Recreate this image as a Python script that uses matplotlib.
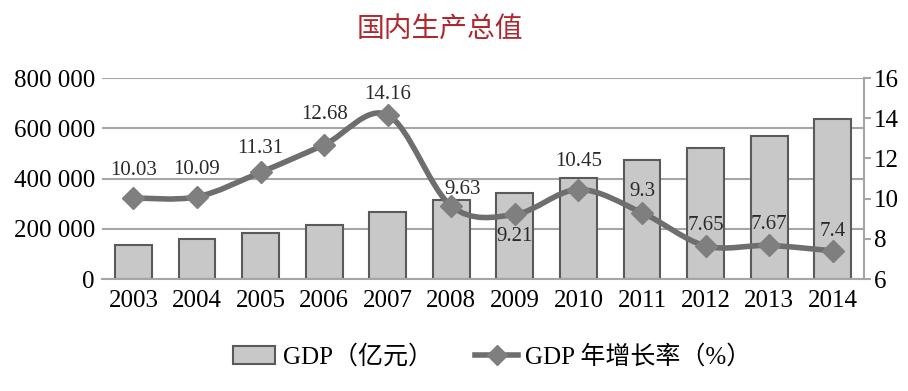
import matplotlib.pyplot as plt
from matplotlib.path import Path
from matplotlib.patches import PathPatch
from matplotlib.lines import Line2D
from matplotlib.patches import Patch
from matplotlib.ticker import FuncFormatter

# 国内生产总值 柱状图 + 增长率折线
years = ['2003', '2004', '2005', '2006', '2007', '2008', '2009', '2010',
         '2011', '2012', '2013', '2014']
gdp = [135823, 159878, 184937, 216314, 265810, 314045, 340903, 401513,
       473104, 519470, 568845, 636463]
rate = [10.03, 10.09, 11.31, 12.68, 14.16, 9.63, 9.21, 10.45, 9.3, 7.65, 7.67, 7.4]
rate_labels = ['10.03', '10.09', '11.31', '12.68', '14.16', '9.63', '9.21',
               '10.45', '9.3', '7.65', '7.67', '7.4']
# 标签偏移 (points)
label_offsets = [(0, 20), (0, 20), (0, 17), (0, 22), (0, 15), (8, 12), (0, -16),
                 (0, 20), (0, 15), (0, 15), (0, 15), (0, 14)]

plt.rcParams['font.family'] = ['Liberation Serif', 'Noto Sans CJK SC']

fig = plt.figure(figsize=(9.08, 3.91), dpi=100)
ax = fig.add_axes([0.112, 0.2864, 0.84, 0.5141])
ax2 = ax.twinx()

x = list(range(len(years)))
ax.bar(x, gdp, width=0.58, color='#c8c8c8', edgecolor='#5a5a5a', linewidth=1.5, zorder=2)
ax.set_xlim(-0.5, len(years) - 0.5)
ax.set_ylim(0, 800000)
ax.set_yticks([0, 200000, 400000, 600000, 800000])
ax.yaxis.set_major_formatter(FuncFormatter(lambda v, p: '{:,}'.format(int(v)).replace(',', ' ')))
ax.set_xticks(x)
ax.set_xticklabels(years)
ax.grid(axis='y', color='#a6a6a6', linewidth=1.5, zorder=0)
ax.set_axisbelow(True)
ax.tick_params(axis='y', length=0, labelsize=18, pad=5)
ax.tick_params(axis='x', length=0, labelsize=18, pad=8)
for s in ['left', 'top', 'right']:
    ax.spines[s].set_visible(False)
ax.spines['bottom'].set_color('#a6a6a6')
ax.spines['bottom'].set_linewidth(1.5)

ax2.set_ylim(6, 16)
ax2.set_yticks([6, 8, 10, 12, 14, 16])
ax2.tick_params(axis='y', length=5, width=1.5, color='#a6a6a6', labelsize=18, pad=2)
for s in ['left', 'top', 'bottom']:
    ax2.spines[s].set_visible(False)
ax2.spines['right'].set_color('#a6a6a6')
ax2.spines['right'].set_linewidth(1.5)

# 平滑曲线 (Bezier)
pts = list(zip(x, rate))
verts = [pts[0]]
codes = [Path.MOVETO]
n = len(pts)
for i in range(n - 1):
    p0 = pts[i - 1] if i > 0 else pts[i]
    p1 = pts[i]
    p2 = pts[i + 1]
    p3 = pts[i + 2] if i + 2 < n else pts[i + 1]
    c1 = (p1[0] + (p2[0] - p0[0]) / 6, p1[1] + (p2[1] - p0[1]) / 6)
    c2 = (p2[0] - (p3[0] - p1[0]) / 6, p2[1] - (p3[1] - p1[1]) / 6)
    verts += [c1, c2, p2]
    codes += [Path.CURVE4, Path.CURVE4, Path.CURVE4]
curve = PathPatch(Path(verts, codes), facecolor='none', edgecolor='#6e6e6e',
                  linewidth=4, zorder=3, capstyle='round')
ax2.add_patch(curve)
ax2.plot(x, rate, linestyle='none', marker='D', markersize=11, color='#7f7f7f', zorder=4)

for xi, r, t, off in zip(x, rate, rate_labels, label_offsets):
    ax2.annotate(t, (xi, r), xytext=off, textcoords='offset points',
                 ha='center', va='center', fontsize=15, color='#2a2a2a', zorder=5)

fig.text(0.484, 0.925, '国内生产总值', color='#b0282e', fontsize=20,
         ha='center', va='center', family=['Noto Sans CJK SC'])

handles = [Patch(facecolor='#c8c8c8', edgecolor='#5a5a5a', linewidth=1.5),
           Line2D([0], [0], color='#6e6e6e', linewidth=4, marker='D',
                  markersize=10, markerfacecolor='#7f7f7f', markeredgecolor='#7f7f7f')]
fig.legend(handles, ['GDP（亿元）', 'GDP 年增长率（%）'], loc='center',
           bbox_to_anchor=(0.542, 0.087), ncol=2, frameon=False, fontsize=18,
           handlelength=1.7, handletextpad=0.3, columnspacing=1.7)

fig.savefig('out.png', dpi=100)
